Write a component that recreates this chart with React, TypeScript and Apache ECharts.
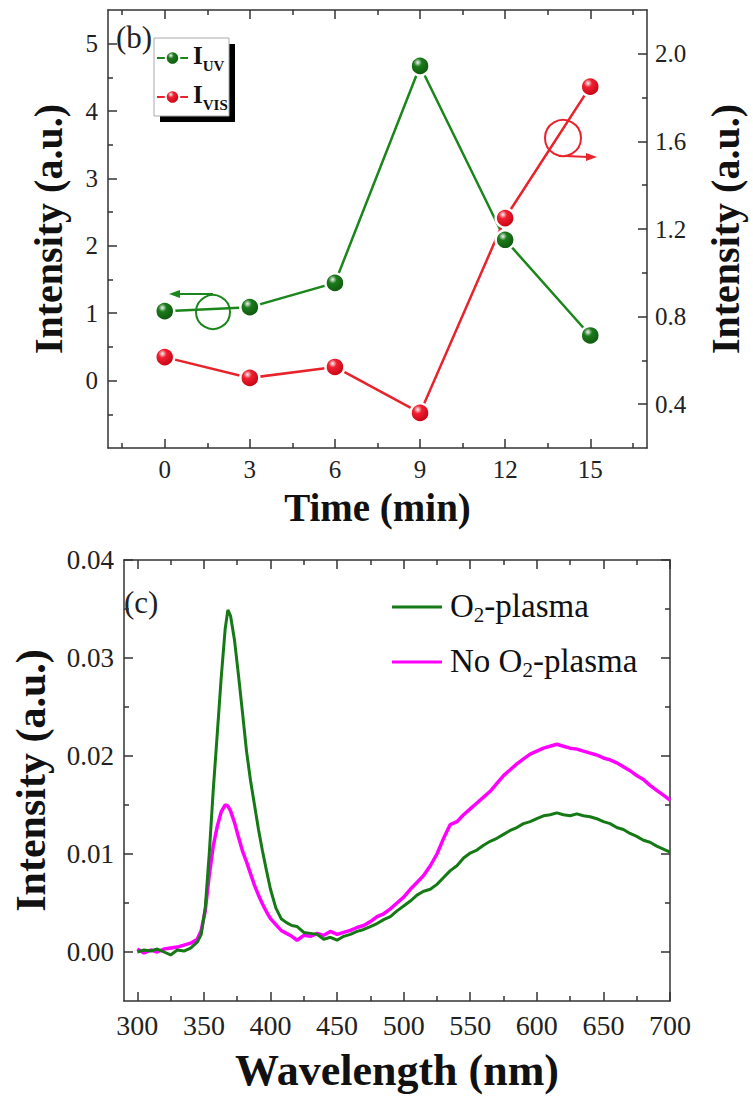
import React, { useEffect, useRef } from "react";
import * as echarts from "echarts";

// ---------- Panel (b) data ----------
const timeMin = [0, 3, 6, 9, 12, 15];
const intensityUV = [1.03, 1.09, 1.45, 4.67, 2.09, 0.67];
const intensityVIS = [0.615, 0.52, 0.57, 0.36, 1.25, 1.85];

const timeTicks = [0, 3, 6, 9, 12, 15];
const timeMinorTicks = [-1.5, 1.5, 4.5, 7.5, 10.5, 13.5, 16.5];
const uvTicks = [0, 1, 2, 3, 4, 5];
const uvMinorTicks = [-0.5, 0.5, 1.5, 2.5, 3.5, 4.5];
const visTicks = [0.4, 0.8, 1.2, 1.6, 2.0];
const visMinorTicks = [0.6, 1.0, 1.4, 1.8];

// ---------- Panel (c) data ----------
const wavelengths = [
  300, 305, 310, 315, 320, 325, 330, 335, 340, 345,
  348, 351, 354, 357, 360, 363, 366, 368, 370, 373, 376, 379, 382, 385,
  388, 391, 394, 397, 400, 404, 408, 412, 416, 420,
  425, 430, 435, 440, 445, 450, 455, 460, 465, 470,
  475, 480, 485, 490, 495, 500, 505, 510, 515, 520,
  525, 530, 535, 540, 545, 550, 555, 560, 565, 570,
  575, 580, 585, 590, 595, 600, 605, 610, 615, 620,
  625, 630, 635, 640, 645, 650, 655, 660, 665, 670,
  675, 680, 685, 690, 695, 700,
];
const o2Plasma = [
  0.0, 0.0002, 0.0001, 0.0003, 0.0, -0.0003, 0.0002, 0.0001, 0.0004, 0.001,
  0.0018, 0.0045, 0.01, 0.0165, 0.0222, 0.028, 0.033, 0.0349, 0.0343, 0.0318, 0.0282, 0.0244, 0.0205, 0.0175,
  0.015, 0.0125, 0.0103, 0.0083, 0.0064, 0.0045, 0.0034, 0.003, 0.0027, 0.0026,
  0.002, 0.0019, 0.0018, 0.0013, 0.0015, 0.0012, 0.0016, 0.0018, 0.0021, 0.0023,
  0.0026, 0.0029, 0.0033, 0.0036, 0.0042, 0.0047, 0.0052, 0.0058, 0.0062, 0.0064,
  0.0069, 0.0076, 0.0083, 0.0088, 0.0096, 0.0101, 0.0104, 0.0109, 0.0113, 0.0116,
  0.012, 0.0124, 0.0127, 0.0131, 0.0133, 0.0136, 0.0139, 0.014, 0.0142, 0.014,
  0.0139, 0.0141, 0.0139, 0.0138, 0.0136, 0.0133, 0.0131, 0.0127, 0.0125, 0.0121,
  0.0118, 0.0114, 0.0112, 0.0108, 0.0105, 0.0102,
];
const noO2Plasma = [
  0.0003, -0.0001, 0.0002, 0.0, 0.0003, 0.0004, 0.0005, 0.0007, 0.0009, 0.0013,
  0.0022, 0.0042, 0.0078, 0.0108, 0.0128, 0.0143, 0.015, 0.0149, 0.0144, 0.0132, 0.0117, 0.0103, 0.0092, 0.008,
  0.0068, 0.0058, 0.0049, 0.0041, 0.0034, 0.0028, 0.0022, 0.0019, 0.0016, 0.0012,
  0.0017, 0.0016, 0.0019, 0.0017, 0.0021, 0.0018, 0.002, 0.0022, 0.0025, 0.0027,
  0.0031, 0.0036, 0.0039, 0.0044, 0.005, 0.0056, 0.0064, 0.0071, 0.0078, 0.0088,
  0.01, 0.0116, 0.013, 0.0133, 0.014, 0.0146, 0.0152, 0.0158, 0.0164, 0.0172,
  0.018, 0.0186, 0.0192, 0.0197, 0.0202, 0.0205, 0.0208, 0.021, 0.0212, 0.021,
  0.0208, 0.0207, 0.0205, 0.0203, 0.0201, 0.0198, 0.0196, 0.0193, 0.0189, 0.0185,
  0.018, 0.0176, 0.017, 0.0165, 0.016, 0.0155,
];
const wlTicks = [300, 350, 400, 450, 500, 550, 600, 650, 700];
const wlMinorTicks = [325, 375, 425, 475, 525, 575, 625, 675];
const plTicks = [0, 0.01, 0.02, 0.03, 0.04];
const plMinorTicks = [0.005, 0.015, 0.025, 0.035];

const FONT = "Liberation Serif, Times New Roman, serif";
const AXIS_COLOR = "#333";
const GREEN = "#1b861b";
const RED = "#e8232b";
const GREEN2 = "#157a15";
const MAGENTA = "#ff00ff";

const lineStyle = { color: AXIS_COLOR, width: 1.5 };

function majorAxis(base: any, ticks: number[], labels: any) {
  return {
    type: "value",
    ...base,
    axisLine: { show: true, onZero: false, lineStyle },
    axisTick: { show: true, inside: true, length: 9, customValues: ticks, lineStyle },
    axisLabel: labels
      ? { show: true, customValues: ticks, fontFamily: FONT, color: "#222", ...labels }
      : { show: false },
    splitLine: { show: false },
  };
}
function minorAxis(base: any, ticks: number[]) {
  return {
    type: "value",
    ...base,
    axisLine: { show: false, onZero: false },
    axisTick: { show: true, inside: true, length: 5, customValues: ticks, lineStyle },
    axisLabel: { show: false },
    splitLine: { show: false },
  };
}

const titleStyle = { fontFamily: FONT, fontWeight: "bold", color: "#111" };

function ball(dark: string, mid: string) {
  return {
    type: "radial",
    x: 0.38,
    y: 0.32,
    r: 0.72,
    colorStops: [
      { offset: 0, color: "#f4f4f4" },
      { offset: 0.3, color: mid },
      { offset: 1, color: dark },
    ],
  };
}

export default function App() {
  const ref = useRef<HTMLDivElement>(null);
  useEffect(() => {
    if (!ref.current) return;
    const chart = echarts.init(ref.current, undefined, { renderer: "svg" });
    const tX = { gridIndex: 0, min: -2, max: 17 };
    const tYL = { gridIndex: 0, min: -1, max: 5.5 };
    const tYR = { gridIndex: 0, min: 0.2, max: 2.2, position: "right" };
    const bX = { gridIndex: 1, min: 290, max: 700 };
    const bY = { gridIndex: 1, min: -0.005, max: 0.04 };

    const option: any = {
      animation: false,
      backgroundColor: "#fff",
      textStyle: { fontFamily: FONT },
      grid: [
        { left: 108, top: 10, width: 544, height: 438 },
        { left: 124, top: 560, width: 546, height: 441 },
      ],
      xAxis: [
        {
          ...majorAxis({ ...tX, position: "bottom" }, timeTicks, { fontSize: 25, margin: 9 }),
          name: "Time (min)",
          nameLocation: "middle",
          nameGap: 40,
          nameTextStyle: { ...titleStyle, fontSize: 39 },
        },
        minorAxis({ ...tX, position: "bottom" }, timeMinorTicks),
        majorAxis({ ...tX, position: "top" }, timeTicks, null),
        minorAxis({ ...tX, position: "top" }, timeMinorTicks),
        {
          ...majorAxis({ ...bX, position: "bottom" }, wlTicks, { fontSize: 28, margin: 10 }),
          name: "Wavelength (nm)",
          nameLocation: "middle",
          nameGap: 47,
          nameTextStyle: { ...titleStyle, fontSize: 44 },
        },
        minorAxis({ ...bX, position: "bottom" }, wlMinorTicks),
        majorAxis({ ...bX, position: "top" }, wlTicks, null),
        minorAxis({ ...bX, position: "top" }, wlMinorTicks),
      ],
      yAxis: [
        {
          ...majorAxis({ ...tYL, position: "left" }, uvTicks, { fontSize: 25, margin: 10 }),
          name: "Intensity (a.u.)",
          nameLocation: "middle",
          nameRotate: 90,
          nameGap: 40,
          nameTextStyle: { ...titleStyle, fontSize: 40 },
        },
        minorAxis({ ...tYL, position: "left" }, uvMinorTicks),
        {
          ...majorAxis(tYR, visTicks, {
            fontSize: 25,
            margin: 8,
            formatter: (v: number) => v.toFixed(1),
          }),
          name: "Intensity (a.u.)",
          nameLocation: "middle",
          nameRotate: 90,
          nameGap: 58,
          nameTextStyle: { ...titleStyle, fontSize: 40 },
        },
        minorAxis(tYR, visMinorTicks),
        {
          ...majorAxis({ ...bY, position: "left" }, plTicks, {
            fontSize: 27,
            margin: 10,
            formatter: (v: number) => v.toFixed(2),
          }),
          name: "Intensity (a.u.)",
          nameLocation: "middle",
          nameRotate: 90,
          nameGap: 72,
          nameTextStyle: { ...titleStyle, fontSize: 42 },
        },
        minorAxis({ ...bY, position: "left" }, plMinorTicks),
        majorAxis({ ...bY, position: "right" }, plTicks, null),
        minorAxis({ ...bY, position: "right" }, plMinorTicks),
      ],
      legend: [
        {
          data: ["I_UV", "I_VIS"],
          orient: "vertical",
          left: 156,
          top: 43,
          padding: 0,
          itemGap: 9,
          itemWidth: 31,
          itemHeight: 17,
          z: 10,
          formatter: (name: string) => `{b|I}{s|${name.split("_")[1]}}`,
          textStyle: {
            fontFamily: FONT,
            color: "#111",
            rich: {
              b: { fontFamily: FONT, fontWeight: "bold", fontSize: 25, lineHeight: 30, verticalAlign: "top", color: "#111" },
              s: { fontFamily: FONT, fontWeight: "bold", fontSize: 15, lineHeight: 15, verticalAlign: "bottom", color: "#111" },
            },
          },
        },
        {
          data: [
            { name: "O2-plasma", icon: "rect" },
            { name: "No O2-plasma", icon: "rect" },
          ],
          orient: "vertical",
          left: 392,
          top: 589,
          padding: 0,
          itemGap: 19,
          itemWidth: 50,
          itemHeight: 3,
          formatter: (name: string) =>
            name === "O2-plasma" ? "{n|O}{s|2}{n|-plasma}" : "{n|No O}{s|2}{n|-plasma}",
          textStyle: {
            fontFamily: FONT,
            color: "#111",
            padding: [0, 0, 0, 3],
            rich: {
              n: { fontFamily: FONT, fontSize: 33, lineHeight: 36, verticalAlign: "top", color: "#111" },
              s: { fontFamily: FONT, fontSize: 21, lineHeight: 20, verticalAlign: "bottom", color: "#111" },
            },
          },
        },
      ],
      graphic: [
        { type: "text", left: 116, top: 22, style: { text: "(b)", font: `31px ${FONT}`, fill: "#222" } },
        { type: "text", left: 124, top: 587, style: { text: "(c)", font: `31px ${FONT}`, fill: "#222" } },
        { type: "rect", z: 5, shape: { x: 160, y: 44, width: 75, height: 78 }, style: { fill: "#000" } },
        { type: "rect", z: 6, shape: { x: 154, y: 38, width: 75, height: 78 }, style: { fill: "#fff", stroke: "#aaa", lineWidth: 1 } },
        { type: "circle", z: 5, shape: { cx: 213, cy: 312, r: 17 }, style: { fill: "none", stroke: GREEN, lineWidth: 2 } },
        { type: "line", z: 5, shape: { x1: 213, y1: 294, x2: 177, y2: 294 }, style: { stroke: GREEN, lineWidth: 2 } },
        { type: "polygon", z: 5, shape: { points: [[169, 294], [180, 290], [180, 298]] }, style: { fill: GREEN } },
        { type: "circle", z: 5, shape: { cx: 563, cy: 138, r: 18 }, style: { fill: "none", stroke: RED, lineWidth: 2 } },
        { type: "line", z: 5, shape: { x1: 566, y1: 156, x2: 588, y2: 157 }, style: { stroke: RED, lineWidth: 2 } },
        { type: "polygon", z: 5, shape: { points: [[597, 157], [586, 153], [586, 161]] }, style: { fill: RED } },
      ],
      series: [
        {
          type: "line",
          name: "I_UV",
          xAxisIndex: 0,
          yAxisIndex: 0,
          data: timeMin.map((t, i) => [t, intensityUV[i]]),
          symbol: "circle",
          symbolSize: 19,
          lineStyle: { color: GREEN, width: 2.5 },
          itemStyle: { color: ball("#0b550b", "#1c7a1c"), borderColor: "#fff", borderWidth: 2.5 },
          z: 3,
        },
        {
          type: "line",
          name: "I_VIS",
          xAxisIndex: 0,
          yAxisIndex: 2,
          data: timeMin.map((t, i) => [t, intensityVIS[i]]),
          symbol: "circle",
          symbolSize: 19,
          lineStyle: { color: RED, width: 2.5 },
          itemStyle: { color: ball("#c00010", "#f02030"), borderColor: "#fff", borderWidth: 2.5 },
          z: 3,
        },
        {
          type: "line",
          name: "No O2-plasma",
          xAxisIndex: 4,
          yAxisIndex: 4,
          data: wavelengths.map((w, i) => [w, noO2Plasma[i]]),
          symbol: "none",
          lineStyle: { color: MAGENTA, width: 3.5 },
          itemStyle: { color: MAGENTA },
        },
        {
          type: "line",
          name: "O2-plasma",
          xAxisIndex: 4,
          yAxisIndex: 4,
          data: wavelengths.map((w, i) => [w, o2Plasma[i]]),
          symbol: "none",
          lineStyle: { color: GREEN2, width: 3 },
          itemStyle: { color: GREEN2 },
        },
      ],
    };
    chart.setOption(option);
    return () => chart.dispose();
  }, []);
  return (
    <div
      ref={ref}
      style={{ position: "fixed", left: 0, top: 0, width: 753, height: 1100, background: "#fff" }}
    />
  );
}
